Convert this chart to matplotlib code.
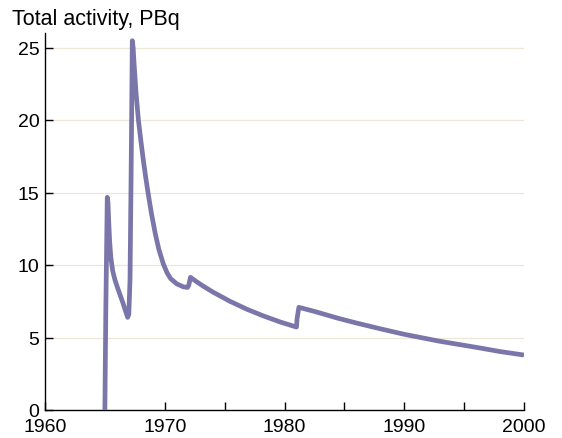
import matplotlib
matplotlib.use("Agg")
import matplotlib.pyplot as plt

plt.rcParams['font.family'] = ['Liberation Sans', 'DejaVu Sans']

years = [1965.0, 1965.08, 1965.2, 1965.26, 1965.32, 1965.4, 1965.5, 1965.65, 1965.85, 1966.07,
         1966.5, 1966.9, 1967.0, 1967.1, 1967.2, 1967.29, 1967.36, 1967.43, 1967.6, 1967.8,
         1968.0, 1968.2, 1968.4, 1968.63, 1968.9, 1969.2, 1969.5, 1969.87, 1970.2, 1970.5,
         1971.0, 1971.54, 1971.9, 1972.0, 1972.15, 1972.6, 1973.2, 1974.05, 1975.44, 1976.8,
         1978.2, 1979.6, 1981.0, 1981.05, 1981.2, 1982.5, 1984.5, 1986.0, 1988.0, 1990.0,
         1992.9, 1996.3, 1998.0, 2000.0]
activity = [0.0, 7.0, 14.67, 14.3, 13.0, 11.6, 10.5, 9.6, 8.95, 8.4,
            7.4, 6.39, 6.6, 9.0, 17.0, 25.47, 25.0, 24.0, 21.9, 20.0,
            18.6, 17.3, 16.1, 14.85, 13.5, 12.2, 11.1, 10.1, 9.45, 9.05,
            8.7, 8.5, 8.45, 8.6, 9.15, 8.88, 8.55, 8.12, 7.5, 6.97,
            6.5, 6.08, 5.72, 6.3, 7.08, 6.8, 6.32, 6.0, 5.6, 5.22,
            4.75, 4.28, 4.03, 3.79]

xticks = [1960, 1970, 1980, 1990, 2000]
yticks = [0, 5, 10, 15, 20, 25]

fig = plt.figure(figsize=(5.62, 4.39), dpi=100)
ax = fig.add_axes([45/562, 1-411/439, (524-45)/562, (411-34)/439])

for v in yticks[1:]:
    ax.axhline(v, color='#EEE6D6', lw=0.9, zorder=0)

ax.plot(years, activity, color='#7A76A9', lw=3.4, solid_joinstyle='round', solid_capstyle='butt', zorder=3)

ax.set_xlim(1960, 2000)
ax.set_ylim(0, 26)
ax.set_xticks(range(1960, 2001, 5))
ax.set_xticklabels([str(y) if y in xticks else '' for y in range(1960, 2001, 5)])
ax.set_yticks(yticks)
ax.tick_params(direction='in', length=6, width=1, labelsize=14, color='black', pad=4)
ax.tick_params(axis='x', pad=6)
for s in ['top', 'right']:
    ax.spines[s].set_visible(False)
for s in ['left', 'bottom']:
    ax.spines[s].set_linewidth(1)
ax.set_facecolor('white')

fig.text(12/562, 1-20/439, 'Total activity, PBq', fontsize=15.5, va='center', ha='left')

fig.savefig('out.png', dpi=100)
